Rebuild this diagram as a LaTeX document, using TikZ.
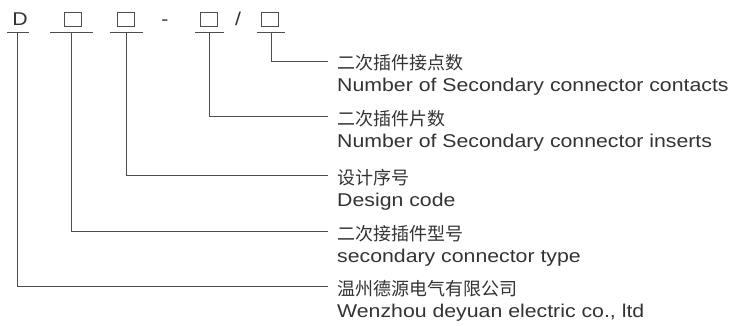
\documentclass[tikz,border=0pt]{standalone}
\usepackage{fontspec}
\setmainfont{Liberation Sans}
\newfontfamily\widesans[FakeStretch=1.15]{Liberation Sans}
\newfontfamily\cjk{Noto Sans CJK SC}
\definecolor{inkgray}{HTML}{333333}
\definecolor{rulegray}{HTML}{4D4D4D}
\tikzset{
	codetext/.style={font=\widesans\fontsize{18.5}{22}\selectfont\color{inkgray}, anchor=base, inner sep=0pt}
}
\tikzset{
	slotbox/.style={draw=rulegray, line width=0.9pt, minimum width=17pt, minimum height=14.5pt, inner sep=0pt}
}
\tikzset{
	cntext/.style={font=\cjk\fontsize{18}{22}\selectfont\color{inkgray}, anchor=base west, inner sep=0pt},
	entext/.style={font=\widesans\fontsize{18.5}{22}\selectfont\color{inkgray}, anchor=base west, inner sep=0pt},
	leader/.style={draw=rulegray, line width=0.9pt}
}

\begin{document}
\begin{tikzpicture}[x=1pt, y=-1pt]
      \useasboundingbox (0,0) rectangle (733,326);

      % type code: D, four blanks, dash and slash
      \node[codetext] (d) at (20,26) {D};
      \node[slotbox] (s1) at (72.5,19.5) {};
      \node[slotbox] (s2) at (126,19.5) {};
      \node[codetext] (dash) at (165,26) {-};
      \node[slotbox] (s3) at (208.5,19.5) {};
      \node[codetext] (slash) at (238,26) {/};
      \node[slotbox] (s4) at (270,19.5) {};

      % underline taps below each position
      \coordinate (u0) at (17,32);
      \coordinate (u1) at (71,32);
      \coordinate (u2) at (126,32);
      \coordinate (u3) at (209,32);
      \coordinate (u4) at (271,32);
      \draw[leader] ([xshift=-10pt]u0) -- ([xshift=12pt]u0);
      \draw[leader] ([xshift=-21pt]u1) -- ([xshift=22pt]u1);
      \draw[leader] ([xshift=-16pt]u2) -- ([xshift=17pt]u2);
      \draw[leader] ([xshift=-14pt]u3) -- ([xshift=15pt]u3);
      \draw[leader] ([xshift=-14pt]u4) -- ([xshift=14pt]u4);

      % ends of the leaders, next to the labels
      \coordinate (t1) at (328,61);
      \coordinate (t2) at (328,116);
      \coordinate (t3) at (328,175);
      \coordinate (t4) at (328,231);
      \coordinate (t5) at (328,286);

      % labels (chinese above, english below)
      \node[cntext] (c1) at ([shift={(9,9)}]t1) {二次插件接点数};
      \node[entext] (e1) at ([shift={(0,22)}]c1.base west) {Number of Secondary connector contacts};
      \node[cntext] (c2) at ([shift={(9,9)}]t2) {二次插件片数};
      \node[entext] (e2) at ([shift={(0,22)}]c2.base west) {Number of Secondary connector inserts};
      \node[cntext] (c3) at ([shift={(9,9)}]t3) {设计序号};
      \node[entext] (e3) at ([shift={(0,22)}]c3.base west) {Design code};
      \node[cntext] (c4) at ([shift={(9,9)}]t4) {二次接插件型号};
      \node[entext] (e4) at ([shift={(0,22)}]c4.base west) {secondary connector type};
      \node[cntext] (c5) at ([shift={(9,9)}]t5) {温州德源电气有限公司};
      \node[entext] (e5) at ([shift={(0,22)}]c5.base west) {Wenzhou deyuan electric co., ltd};

      % leaders from each position to its label
      \draw[leader] (u4) |- (t1);
      \draw[leader] (u3) |- (t2);
      \draw[leader] (u2) |- (t3);
      \draw[leader] (u1) |- (t4);
      \draw[leader] (u0) |- (t5);
    \end{tikzpicture}
\end{document}
